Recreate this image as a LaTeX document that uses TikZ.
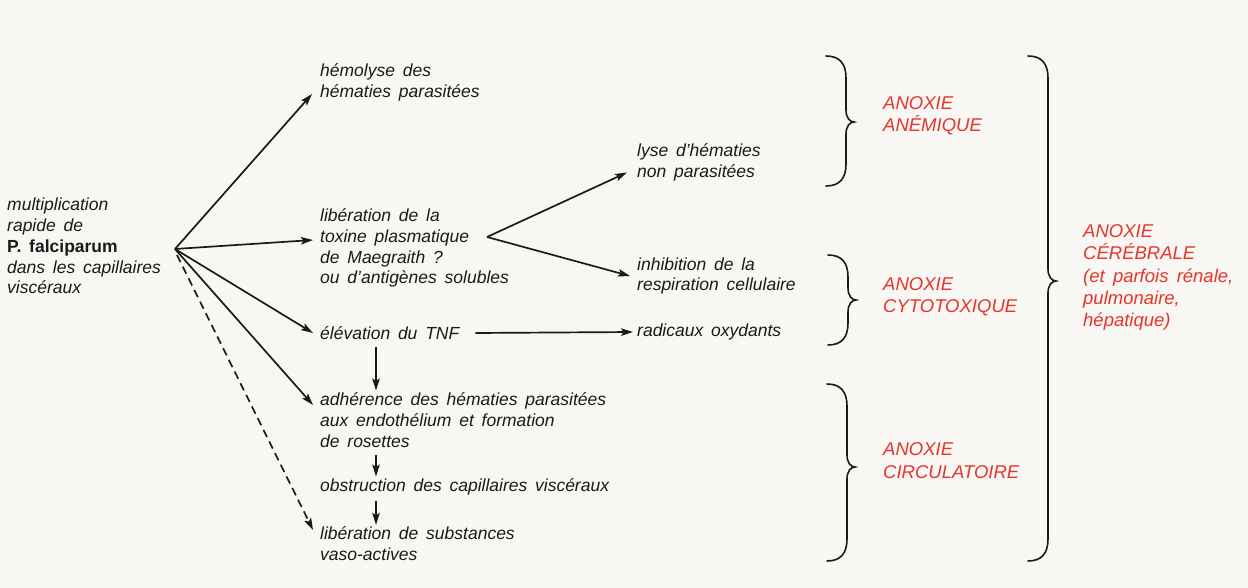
\documentclass[tikz,border=0pt]{standalone}
\usepackage{fontspec}
\setmainfont{Liberation Sans}[WordSpace=1.6]
\usetikzlibrary{arrows.meta}
\definecolor{ink}{HTML}{1A1A1A}
\definecolor{anox}{HTML}{E5352D}
\definecolor{paper}{HTML}{F8F7F4}
\newcommand{\drawbrace}[4]{%
  \draw[brc] ({#1-20},#2) .. controls ({#1-6},#2) and (#1,{#2+8}) .. (#1,{#2+22})
    -- (#1,{#3-12}) .. controls (#1,{#3-4}) and ({#1+4},#3) .. ({#1+8},#3)
    .. controls ({#1+4},#3) and (#1,{#3+4}) .. (#1,{#3+12})
    -- (#1,{#4-22}) .. controls (#1,{#4-8}) and ({#1-6},#4) .. ({#1-20},#4);}
\begin{document}
\begin{tikzpicture}[x=1pt,y=-1pt,
  lbl/.style={anchor=west, align=left, inner sep=0pt, text=ink,
    font=\fontsize{17.5}{20.8}\selectfont\itshape},
  anoxlbl/.style={anchor=west, align=left, inner sep=0pt, text=anox,
    font=\fontsize{18.5}{22.3}\selectfont\itshape},
  arr/.style={draw=ink, line width=1.7pt, -{Stealth[length=12pt,width=7.5pt,inset=2.5pt]}},
  dasharr/.style={arr, dash pattern=on 8pt off 5pt},
  brc/.style={draw=ink, line width=1.6pt, line cap=round}]
\fill[paper] (0,0) rectangle (1248,588);
\useasboundingbox (0,0) rectangle (1248,588);

% source
\node[lbl] (src) at (7,246) {multiplication\\rapide de\\\textbf{\upshape P. falciparum}\\dans les capillaires\\viscéraux};
\coordinate (hub) at (175,249);

% first column
\node[lbl] (hemo) at (320,82) {hémolyse des\\hématies parasitées};
\node[lbl] (lib) at (320,248) {libération de la\\toxine plasmatique\\de Maegraith ?\\ou d’antigènes solubles};
\node[lbl] (elev) at (320,333) {élévation du TNF};
\node[lbl] (adh) at (320,420) {adhérence des hématies parasitées\\aux endothélium et formation\\de rosettes};
\node[lbl] (obs) at (320,487) {obstruction des capillaires viscéraux};
\node[lbl] (sub) at (320,544) {libération de substances\\vaso-actives};

% second column
\node[lbl] (lyse) at (637,162.5) {lyse d’hématies\\non parasitées};
\node[lbl] (inhib) at (637,276) {inhibition de la\\respiration cellulaire};
\node[lbl] (rad) at (637,332) {radicaux oxydants};

% red labels
\node[anoxlbl] (an1) at (883,116) {ANOXIE\\ANÉMIQUE};
\node[anoxlbl] (an2) at (883,296.5) {ANOXIE\\CYTOTOXIQUE};
\node[anoxlbl] (an3) at (883,460.5) {ANOXIE\\CIRCULATOIRE};
\node[anoxlbl] (an4) at (1083,277.5) {ANOXIE\\CÉRÉBRALE\\(et parfois rénale,\\pulmonaire,\\hépatique)};

% arrows from the hub
\draw[arr] (hub) -- ([xshift=-8pt,yshift=-12pt]hemo.west);
\draw[arr] (hub) -- ([xshift=-7pt,yshift=8pt]lib.west);
\draw[arr] (hub) -- ([xshift=-7pt]elev.west);
\draw[arr] (hub) -- ([xshift=-7pt,yshift=15pt]adh.west);
\draw[dasharr] ([xshift=2pt,yshift=-6pt]hub) -- ([xshift=-7pt,yshift=14pt]sub.west);

% split from toxine
\coordinate (split) at (487,237);
\draw[arr] (split) -- ([xshift=-10pt,yshift=-10pt]lyse.west);
\draw[arr] (split) -- ([xshift=-7pt]inhib.west);
\draw[arr] ([xshift=16pt]elev.east) -- ([xshift=-4pt]rad.west);

% vertical chain
\coordinate (col) at (376,0);
\draw[arr] ([yshift=-7pt]col |- elev.south) -- ([yshift=2pt]col |- adh.north);
\draw[arr] ([yshift=-7pt]col |- adh.south) -- ([yshift=2pt]col |- obs.north);
\draw[arr] ([yshift=-6pt]col |- obs.south) -- ([yshift=2pt]col |- sub.north);

% braces
\drawbrace{846}{56}{122}{186}
\drawbrace{848}{255}{300}{345}
\drawbrace{847}{384}{467}{561}
\drawbrace{1048}{56}{281}{561}
\end{tikzpicture}
\end{document}
